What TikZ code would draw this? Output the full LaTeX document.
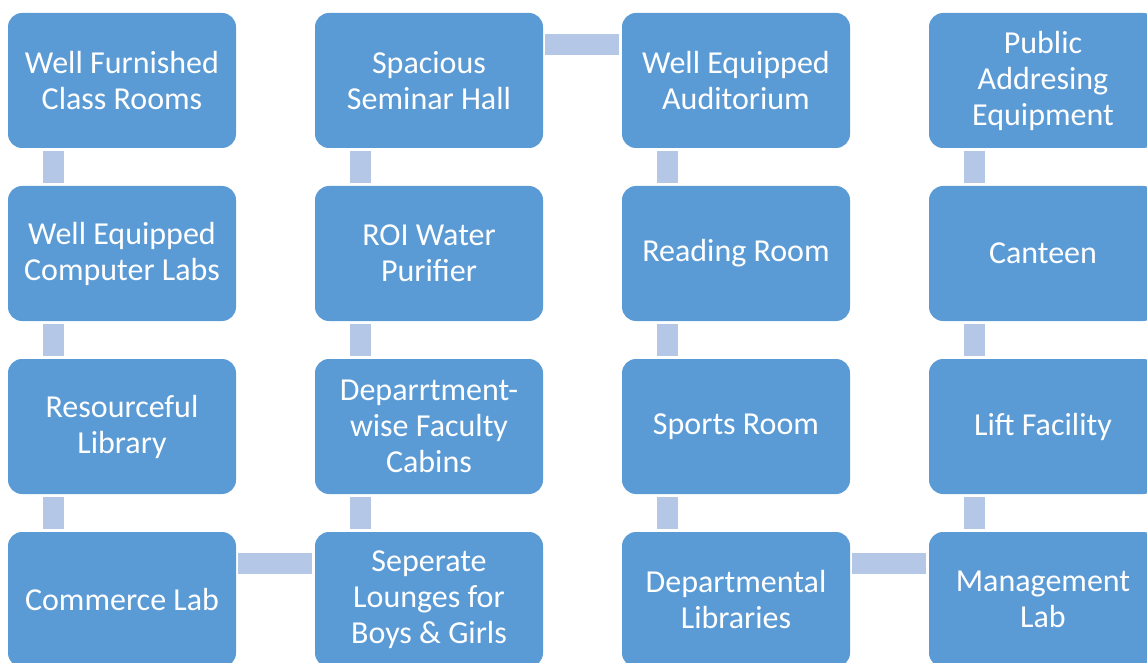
\documentclass[tikz,border=0pt]{standalone}
\usepackage{fontspec}
\setmainfont{Carlito}
\usepackage{xcolor}
\usepackage{tikz}

\definecolor{boxblue}{HTML}{5B9BD5}
\definecolor{barblue}{HTML}{B4C7E7}

\begin{document}
\begin{tikzpicture}[x=0.75pt,y=-0.75pt]
\tikzstyle{box}=[rectangle, fill=boxblue, rounded corners=10.5pt, minimum width=171pt, minimum height=101.25pt, inner sep=0pt, align=center, text=white, font=\fontsize{24}{27}\selectfont]
\tikzstyle{bar}=[draw=barblue, line width=15.75pt]
\useasboundingbox (0,0) rectangle (1147,663);
\clip (0,0) rectangle (1147,663);
% first column
\node [box] (a1) at (122,80.5) {Well Furnished\\Class Rooms};
\node [box] (a2) at (122,253.5) {Well Equipped\\Computer Labs};
\node [box] (a3) at (122,426.5) {Resourceful\\Library};
\node [box] (a4) at (122,599.5) {Commerce Lab};
% second column
\node [box] (b1) at (429,80.5) {Spacious\\Seminar Hall};
\node [box] (b2) at (429,253.5) {ROI Water\\Purifier};
\node [box] (b3) at (429,426.5) {Deparrtment-\\wise Faculty\\Cabins};
\node [box] (b4) at (429,599.5) {Seperate\\Lounges for\\Boys \& Girls};
% third column
\node [box] (c1) at (736,80.5) {Well Equipped\\Auditorium};
\node [box] (c2) at (736,253.5) {Reading Room};
\node [box] (c3) at (736,426.5) {Sports Room};
\node [box] (c4) at (736,599.5) {Departmental\\Libraries};
% fourth column
\node [box] (d1) at (1043,80.5) {Public\\Addresing\\Equipment};
\node [box] (d2) at (1043,253.5) {Canteen};
\node [box] (d3) at (1043,426.5) {Lift Facility};
\node [box] (d4) at (1043,599.5) {Management\\Lab};
% vertical bars
\draw [bar] ([xshift=34.1pt,yshift=-2.25pt]a1.south west) -- ([xshift=34.1pt,yshift=2.25pt]a2.north west);
\draw [bar] ([xshift=34.1pt,yshift=-2.25pt]a2.south west) -- ([xshift=34.1pt,yshift=2.25pt]a3.north west);
\draw [bar] ([xshift=34.1pt,yshift=-2.25pt]a3.south west) -- ([xshift=34.1pt,yshift=2.25pt]a4.north west);
\draw [bar] ([xshift=34.1pt,yshift=2.25pt]b4.north west) -- ([xshift=34.1pt,yshift=-2.25pt]b3.south west);
\draw [bar] ([xshift=34.1pt,yshift=2.25pt]b3.north west) -- ([xshift=34.1pt,yshift=-2.25pt]b2.south west);
\draw [bar] ([xshift=34.1pt,yshift=2.25pt]b2.north west) -- ([xshift=34.1pt,yshift=-2.25pt]b1.south west);
\draw [bar] ([xshift=34.1pt,yshift=-2.25pt]c1.south west) -- ([xshift=34.1pt,yshift=2.25pt]c2.north west);
\draw [bar] ([xshift=34.1pt,yshift=-2.25pt]c2.south west) -- ([xshift=34.1pt,yshift=2.25pt]c3.north west);
\draw [bar] ([xshift=34.1pt,yshift=-2.25pt]c3.south west) -- ([xshift=34.1pt,yshift=2.25pt]c4.north west);
\draw [bar] ([xshift=34.1pt,yshift=2.25pt]d4.north west) -- ([xshift=34.1pt,yshift=-2.25pt]d3.south west);
\draw [bar] ([xshift=34.1pt,yshift=2.25pt]d3.north west) -- ([xshift=34.1pt,yshift=-2.25pt]d2.south west);
\draw [bar] ([xshift=34.1pt,yshift=2.25pt]d2.north west) -- ([xshift=34.1pt,yshift=-2.25pt]d1.south west);
% horizontal bars
\draw [bar] ([xshift=1.5pt,yshift=-24pt]a4.north east) -- ([xshift=-2.25pt,yshift=-24pt]b4.north west);
\draw [bar] ([xshift=1.5pt,yshift=-24pt]b1.north east) -- ([xshift=-2.25pt,yshift=-24pt]c1.north west);
\draw [bar] ([xshift=1.5pt,yshift=-24pt]c4.north east) -- ([xshift=-2.25pt,yshift=-24pt]d4.north west);
\end{tikzpicture}
\end{document}
